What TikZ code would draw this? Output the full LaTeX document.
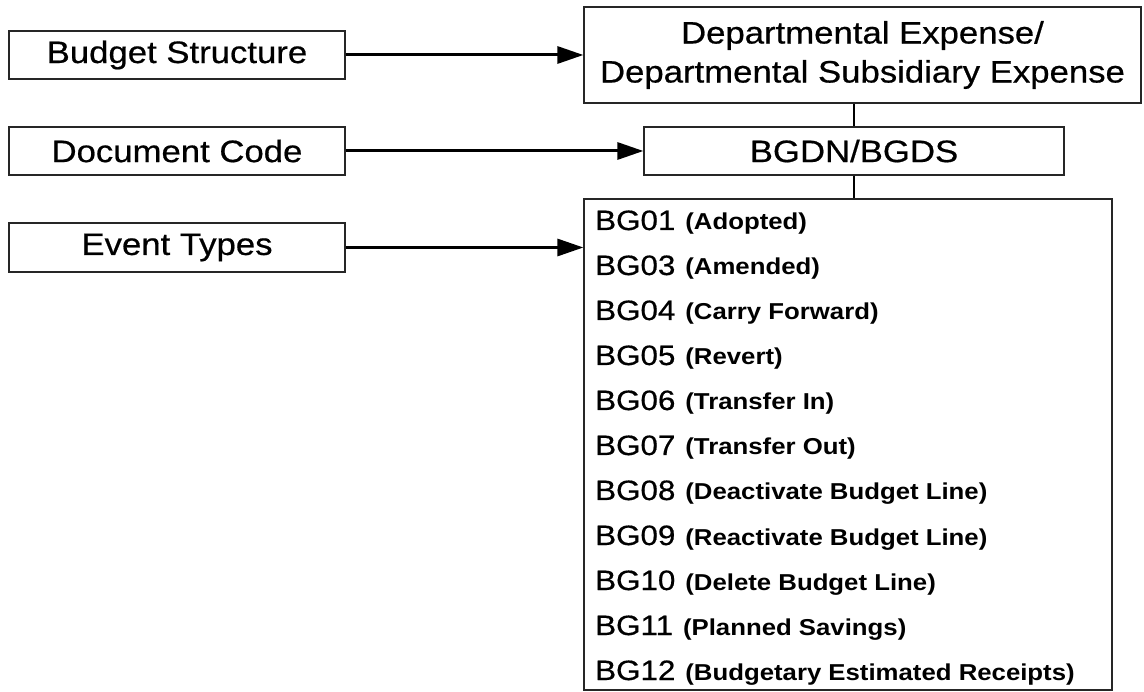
\documentclass[tikz,border=0pt]{standalone}
\usepackage{fontspec}
\setmainfont{Liberation Sans}[FakeStretch=1.12]
\newfontfamily\mlabelfont{Liberation Sans}[FakeStretch=1.12,FakeBold=0.6]
\usetikzlibrary{arrows.meta}
\begin{document}
\begin{tikzpicture}[x=1pt,y=-1pt,
    box/.style={draw=black!85,line width=1.2pt,inner sep=0pt,font=\mlabelfont\fontsize{31}{39}\selectfont,align=center},
    arrow/.style={line width=3pt,-{Triangle[length=26pt,width=17pt]}},
    link/.style={line width=1.2pt}]
    \useasboundingbox (0,0) rectangle (1144,692);
    \def\mrowgap{45} %khoang cach dong
    % cot trai
    \node[box,minimum width=336pt,minimum height=48pt] (mstruct) at (177,55) {Budget Structure};
    \node[box,minimum width=336pt,minimum height=48pt] (mdoc) at (177,151) {Document Code};
    \node[box,minimum width=336pt,minimum height=49pt] (mevent) at (177,247.5) {Event Types};
    % cot phai
    \node[box,minimum width=557pt,minimum height=96pt] (mdept) at (862.5,55) {Departmental Expense/\\Departmental Subsidiary Expense};
    \node[box,minimum width=420pt,minimum height=48pt] (mbgdn) at (854,151) {BGDN/BGDS};
    \node[box,minimum width=528pt,minimum height=491pt] (mlist) at (848,444.5) {};
    \foreach \mcode/\mname [count=\k from 0] in {BG01/Adopted,BG03/Amended,BG04/Carry Forward,BG05/Revert,BG06/Transfer In,BG07/Transfer Out,BG08/Deactivate Budget Line,BG09/Reactivate Budget Line,BG10/Delete Budget Line,BG11/Planned Savings,BG12/Budgetary Estimated Receipts}
        \node[anchor=base west,inner sep=0pt,font=\fontsize{28}{28}\selectfont] (mev\k) at (595,{230+\mrowgap*\k}) {{\mlabelfont\mcode}\hspace{10pt}{\bfseries\fontsize{23}{23}\selectfont(\mname)}};
    \draw[arrow] (mstruct.east)--(mdept.west);
    \draw[arrow] (mdoc.east)--(mbgdn.west);
    \draw[arrow] (mevent.east)--(mevent.east-|mlist.west);
    \draw[link] (mbgdn.north)--(mbgdn.north|-mdept.south) (mbgdn.south)--(mbgdn.south|-mlist.north);
\end{tikzpicture}
\end{document}
